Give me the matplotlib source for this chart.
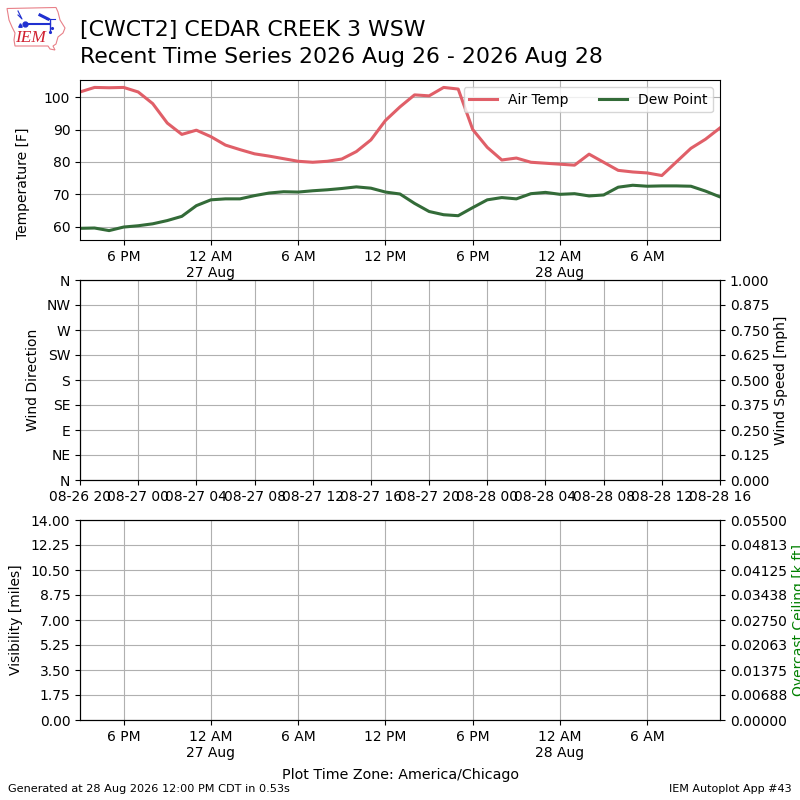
import matplotlib
matplotlib.use("Agg")
import matplotlib.pyplot as plt
import matplotlib.dates as mdates
import numpy as np
import pandas as pd
from matplotlib.patches import Polygon
from matplotlib.transforms import blended_transform_factory as blend

times = pd.date_range("2026-08-26 15:00", "2026-08-28 11:00", freq="h")
air_temp = [101.6, 103, 102.9, 103, 101.6, 98, 92, 88.5, 89.8,
            87.8, 85.2, 83.8, 82.5, 81.8, 81, 80.2, 79.9, 80.2, 80.9, 83.2, 86.8, 92.8,
            97, 100.7, 100.4, 103, 102.5, 90, 84.5, 80.6, 81.2, 79.9, 79.6,
            79.3, 79, 82.4, 79.9, 77.4, 76.9, 76.6, 75.8, 80, 84.2, 87, 90.5]
dew_point = [59.5, 59.6, 58.8, 59.9, 60.3, 60.9, 61.9, 63.2, 66.5,
             68.3, 68.6, 68.6, 69.6, 70.4, 70.8, 70.7, 71.1, 71.4, 71.8, 72.3, 71.9, 70.7,
             70.1, 67.2, 64.7, 63.7, 63.4, 65.9, 68.3, 69, 68.6, 70.2, 70.6,
             70, 70.2, 69.5, 69.8, 72.2, 72.8, 72.5, 72.6, 72.6, 72.5, 71, 69.2]
time_ticks = pd.to_datetime(["2026-08-26 18:00", "2026-08-27 00:00", "2026-08-27 06:00",
                             "2026-08-27 12:00", "2026-08-27 18:00", "2026-08-28 00:00",
                             "2026-08-28 06:00"])
time_labels = ["6 PM", "12 AM\n27 Aug", "6 AM", "12 PM", "6 PM", "12 AM\n28 Aug", "6 AM"]
wind_dir_labels = ["N", "NE", "E", "SE", "S", "SW", "W", "NW", "N"]
temp_ticks = [60, 70, 80, 90, 100]

W = H = 800
def rect(l, t, r, b):
    return [l / W, 1 - b / H, (r - l) / W, (b - t) / H]

def place_ylabel(ax, xpx, frac=0.5):
    ax.yaxis.set_label_coords(xpx / W, frac, transform=blend(ax.figure.transFigure, ax.transAxes))
    ax.yaxis.label.set_verticalalignment("center")

fig = plt.figure(figsize=(8, 8), dpi=100)
L, R = 80, 720
xlim_local = (times[0], times[-1])

# Top panel
ax1 = fig.add_axes(rect(L, 80.3, R, 240))
ax1.plot(times, air_temp, color="#e05f68", lw=2.2, label="Air Temp")
ax1.plot(times, dew_point, color="#336b38", lw=2.2, label="Dew Point")
ax1.set_xlim(xlim_local)
ax1.set_ylim(55.9, 105.2)
ax1.set_yticks(temp_ticks)
ax1.set_xticks(time_ticks)
ax1.set_xticklabels(time_labels)
ax1.set_ylabel("Temperature [F]")
ax1.grid(True)
ax1.legend(loc="upper right", ncol=2, fontsize=10, columnspacing=2.2, handlelength=2.0)
place_ylabel(ax1, 23, 0.357)

# Middle panel
ax2 = fig.add_axes(rect(L, 280, R, 480))
ax2.set_xlim(pd.Timestamp("2026-08-26 20:00"), pd.Timestamp("2026-08-28 16:00"))
ax2.xaxis.set_major_locator(mdates.HourLocator(byhour=[0, 4, 8, 12, 16, 20]))
ax2.xaxis.set_major_formatter(mdates.DateFormatter("%m-%d %H"))
ax2.set_ylim(0, 360)
ax2.set_yticks(np.arange(0, 361, 45))
ax2.set_yticklabels(wind_dir_labels)
ax2.set_ylabel("Wind Direction")
ax2.grid(True)
place_ylabel(ax2, 33)
ax2r = ax2.twinx()
ax2r.set_ylim(0, 1)
ax2r.set_yticks(np.arange(0, 1.001, 0.125))
ax2r.set_yticklabels([f"{v:.3f}" for v in np.arange(0, 1.001, 0.125)])
ax2r.set_ylabel("Wind Speed [mph]")
place_ylabel(ax2r, 781)

# Bottom panel
ax3 = fig.add_axes(rect(L, 520, R, 720))
ax3.set_xlim(xlim_local)
ax3.set_xticks(time_ticks)
ax3.set_xticklabels(time_labels)
ax3.set_ylim(0, 14)
vis_ticks = np.arange(0, 14.01, 1.75)
ax3.set_yticks(vis_ticks)
ax3.set_yticklabels([f"{v:.2f}" for v in vis_ticks])
ax3.set_ylabel("Visibility [miles]")
ax3.grid(True)
place_ylabel(ax3, 16)
ax3r = ax3.twinx()
ax3r.set_ylim(0, 0.055)
ceil_ticks = np.linspace(0, 0.055, 9)
ax3r.set_yticks(ceil_ticks)
ax3r.set_yticklabels([f"{v:.5f}" for v in ceil_ticks])
ax3r.set_ylabel("Overcast Ceiling [k ft]", color="green")
place_ylabel(ax3r, 799)

# Titles and footers
fig.text(80 / W, 1 - 30 / H, "[CWCT2] CEDAR CREEK 3 WSW", fontsize=15.85, va="center")
fig.text(80 / W, 1 - 57 / H, "Recent Time Series 2026 Aug 26 - 2026 Aug 28", fontsize=15.85, va="center")
fig.text(400 / W, 1 - 775 / H, "Plot Time Zone: America/Chicago", fontsize=10.3, ha="center", va="center")
fig.text(8 / W, 1 - 789 / H, "Generated at 28 Aug 2026 12:00 PM CDT in 0.53s", fontsize=8.13, va="center")
fig.text(792 / W, 1 - 789 / H, "IEM Autoplot App #43", fontsize=8, ha="right", va="center")

# IEM logo (figure pixel space)
logo = fig.add_axes([0, 1 - 55 / H, 70 / W, 55 / H])
logo.set_xlim(0, 70)
logo.set_ylim(55, 0)
logo.axis("off")
iowa = [(7, 8.5), (56, 7.5), (58, 12), (60, 20), (65, 28), (63, 33), (58, 37), (56, 44),
        (53, 46), (55, 50), (50, 49), (48, 46), (15, 46), (14, 40), (15, 33), (12, 27), (9, 20), (8, 14)]
logo.add_patch(Polygon(iowa, closed=True, fc="white", ec="#e88088", lw=0.8))
blue = "#2030d0"
logo.plot([25, 50], [24, 24], color=blue, lw=1.5)
logo.plot([46, 55], [19, 19], color=blue, lw=0.8)
logo.plot([50, 50], [19, 31], color=blue, lw=1.0)
logo.plot([40, 48], [15, 19], color=blue, lw=2.2)
logo.plot([18, 22, 18], [11, 19, 15], color=blue, lw=0.8)
logo.plot([25], [24], "o", color=blue, ms=3.5)
logo.plot([20], [25], "^", color=blue, ms=2.5)
logo.plot([52, 50], [28, 32], ".", color=blue, ms=2.5)
logo.text(30.5, 38.5, "IEM", color="#d02030", fontsize=12.5, style="italic",
          family="Liberation Serif", ha="center", va="center")

fig.savefig("out.png", dpi=100)
